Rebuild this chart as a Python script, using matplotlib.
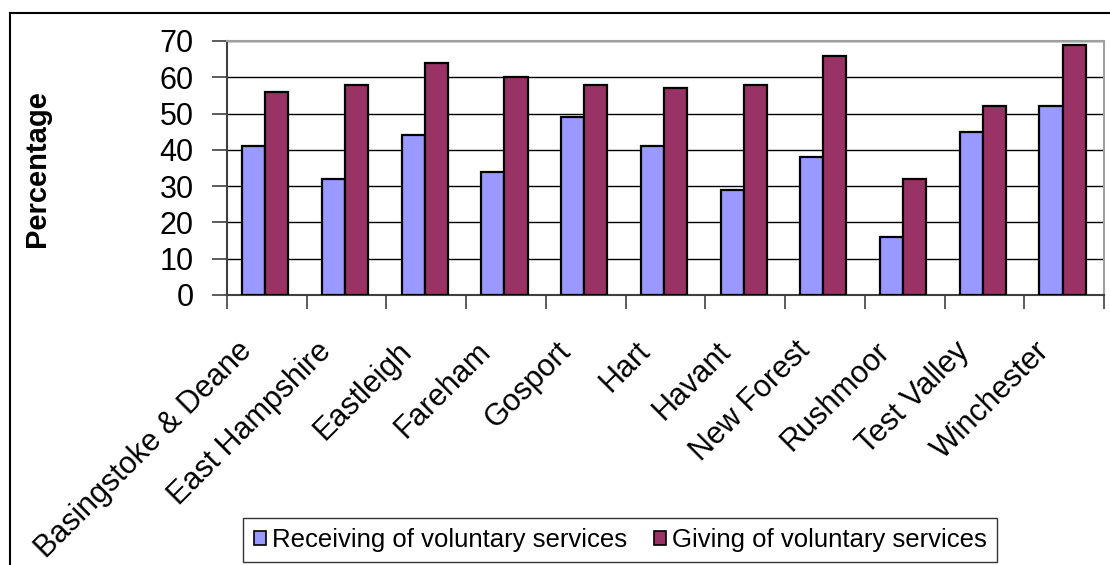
import matplotlib
matplotlib.use("Agg")
import matplotlib.pyplot as plt
import matplotlib.transforms as mtrans
import numpy as np
from matplotlib.lines import Line2D
from matplotlib.patches import Patch

categories = ["Basingstoke & Deane", "East Hampshire", "Eastleigh", "Fareham",
              "Gosport", "Hart", "Havant", "New Forest", "Rushmoor",
              "Test Valley", "Winchester"]
receiving = [41, 32, 44, 34, 49, 41, 29, 38, 16, 45, 52]
giving = [56, 58, 64, 60, 58, 57, 58, 66, 32, 52, 69]
series_names = ["Receiving of voluntary services", "Giving of voluntary services"]
yticks = [0, 10, 20, 30, 40, 50, 60, 70]

plt.rcParams['font.family'] = ['Liberation Sans', 'DejaVu Sans']

W, H = 1110, 565
fig = plt.figure(figsize=(W / 100, H / 100), dpi=100)
fig.patch.set_facecolor("white")

# outer chart border (top and left visible)
fig.add_artist(Line2D([10 / W, 1.0], [1 - 13 / H, 1 - 13 / H], color="black", lw=1.5,
                      transform=fig.transFigure))
fig.add_artist(Line2D([10 / W, 10 / W], [1 - 13 / H, 0], color="black", lw=1.5,
                      transform=fig.transFigure))

left, right, top, bottom = 227, 1104, 41, 295
ax = fig.add_axes([left / W, 1 - bottom / H, (right - left) / W, (bottom - top) / H])

x = np.arange(len(categories))
bw = 0.29
c_rec = "#9999FF"
c_giv = "#993366"
ax.bar(x - bw / 2 - 0.02, receiving, bw, color=c_rec, edgecolor="black", linewidth=1.6, zorder=3)
ax.bar(x + bw / 2 - 0.02, giving, bw, color=c_giv, edgecolor="black", linewidth=1.6, zorder=3)

ax.set_xlim(-0.5, len(categories) - 0.5)
ax.set_ylim(0, 70)
ax.set_yticks(yticks)
ax.set_yticklabels([str(v) for v in yticks], fontsize=22)
ax.yaxis.grid(True, color="black", linewidth=1.0, zorder=0)
ax.set_axisbelow(True)

ax.set_xticks(x)
ax.set_xticklabels(categories, fontsize=22, rotation=45, ha="right",
                   rotation_mode="anchor", va="top")
ax.tick_params(axis="x", which="major", length=0, pad=0)
offset = mtrans.ScaledTranslation(-30 / 100, -41 / 100, fig.dpi_scale_trans)
for lab in ax.get_xticklabels():
    lab.set_transform(lab.get_transform() + offset)
ax.set_xticks(np.arange(-0.5, len(categories) + 0.5, 1), minor=True)
ax.tick_params(axis="x", which="minor", length=10, width=1.2, color="#404040", direction="out")
ax.tick_params(axis="y", length=11, width=1.2, color="#404040", direction="out", pad=13)

for s in ["top", "right"]:
    ax.spines[s].set_color("#A0A0A0")
    ax.spines[s].set_linewidth(1.5)
ax.spines["left"].set_color("#404040")
ax.spines["left"].set_linewidth(1.5)
ax.spines["bottom"].set_color("#404040")
ax.spines["bottom"].set_linewidth(1.5)

fig.text(37 / W, 1 - 169 / H, "Percentage", rotation=90, fontsize=21, fontweight="bold",
         ha="center", va="center")

handles = [Patch(facecolor=c_rec, edgecolor="black", linewidth=1.2),
           Patch(facecolor=c_giv, edgecolor="black", linewidth=1.2)]
leg = fig.legend(handles, series_names, loc="center", bbox_to_anchor=(620 / W, 1 - 540 / H),
                 ncol=2, frameon=True, fancybox=False, handlelength=0.5,
                 handleheight=0.5, handletextpad=0.2, columnspacing=1.05, borderpad=0.4,
                 prop={"family": ["Liberation Sans"], "size": 18.5})
leg.get_frame().set_edgecolor("black")
leg.get_frame().set_linewidth(1.0)

fig.savefig("out.png", dpi=100)
